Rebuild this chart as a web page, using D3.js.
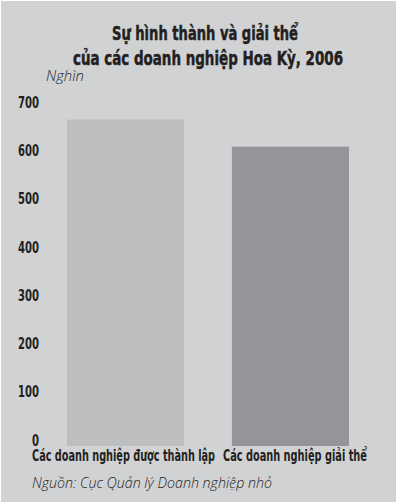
<!DOCTYPE html>
<html>
<head>
<meta charset="utf-8">
<script src="https://cdn.jsdelivr.net/npm/d3@7"></script>
<style>
  html, body { margin: 0; padding: 0; background: #fff; }
  svg { display: block; }
</style>
</head>
<body>
<div id="chart"></div>
<script>
let categories = ["Các doanh nghiệp được thành lập", "Các doanh nghiệp giải thể"];
let values = [676, 620];
let tickValues = [0, 100, 200, 300, 400, 500, 600, 700];
let titleLines = ["Sự hình thành và giải thể", "của các doanh nghiệp Hoa Kỳ, 2006"];
let barColors = ["#bdbec0", "#939598"];

let width = 397, height = 502;
let margin = ({top: 108, right: 48, bottom: 56, left: 67});
let condensed = "'DejaVu Sans Condensed', 'DejaVu Sans', sans-serif";

let svg = d3.select("#chart")
    .append("svg")
    .attr("width", width)
    .attr("height", height);

svg.append("rect")
    .attr("x", 1).attr("y", 1)
    .attr("width", width - 2).attr("height", height - 1)
    .attr("fill", "#d1d2d4");

let x = d3.scaleBand()
    .domain(categories)
    .range([margin.left, width - margin.right])
    .paddingInner(0.29)
    .paddingOuter(0);

let y = d3.scaleLinear()
    .domain([0, 700])
    .range([height - margin.bottom, margin.top]);

// title
let titleWidths = [186, 270];
svg.append("g")
    .attr("font-family", condensed)
    .attr("font-stretch", "condensed")
    .attr("font-weight", "bold")
    .attr("font-size", 20)
    .attr("fill", "#231f20")
    .attr("stroke", "#231f20")
    .attr("stroke-width", 0.5)
    .attr("text-anchor", "middle")
    .selectAll("text")
    .data(titleLines)
    .join("text")
    .attr("x", (d, i) => i ? 208 : 205)
    .attr("y", (d, i) => 40 + i * 25)
    .attr("textLength", (d, i) => titleWidths[i])
    .attr("lengthAdjust", "spacingAndGlyphs")
    .text(d => d);

// unit
svg.append("text")
    .attr("x", 46).attr("y", 81)
    .attr("font-family", "'Open Sans', sans-serif")
    .attr("font-style", "italic")
    .attr("font-weight", 300)
    .attr("font-size", 14)
    .attr("fill", "#231f20")
    .attr("textLength", 38)
    .attr("lengthAdjust", "spacingAndGlyphs")
    .text("Nghìn");

// bars
svg.append("g")
    .selectAll("rect")
    .data(values)
    .join("rect")
    .attr("x", (d, i) => x(categories[i]))
    .attr("y", d => y(d))
    .attr("width", x.bandwidth())
    .attr("height", d => y(0) - y(d))
    .attr("fill", (d, i) => barColors[i]);

// y axis
let yAxis = g => g
    .attr("transform", `translate(39,0)`)
    .call(d3.axisLeft(y).tickValues(tickValues).tickSize(0).tickPadding(0))
    .call(g => g.select(".domain").remove())
    .call(g => g.selectAll(".tick text")
        .attr("dy", "-0.05em")
        .attr("fill", "#231f20")
        .attr("font-family", condensed)
        .attr("font-stretch", "condensed")
        .attr("font-weight", "bold")
        .attr("font-size", 15)
        .attr("textLength", d => String(d).length * 7)
        .attr("lengthAdjust", "spacingAndGlyphs"));

svg.append("g").call(yAxis);

// x axis labels
let labelWidths = [183, 144];
let labelShift = [-2, 4.5];
let xAxis = g => g
    .attr("transform", `translate(0,${y(0)})`)
    .call(d3.axisBottom(x).tickSize(0).tickPadding(0))
    .call(g => g.select(".domain").remove())
    .call(g => g.selectAll(".tick text")
        .attr("dy", 0)
        .attr("y", 15)
        .attr("x", (d, i) => labelShift[i])
        .attr("fill", "#231f20")
        .attr("font-family", condensed)
        .attr("font-stretch", "condensed")
        .attr("font-weight", "bold")
        .attr("font-size", 16)
        .attr("textLength", (d, i) => labelWidths[i])
        .attr("lengthAdjust", "spacingAndGlyphs"));

svg.append("g").call(xAxis);

// source
svg.append("text")
    .attr("x", 32).attr("y", 488)
    .attr("font-family", "'Open Sans', sans-serif")
    .attr("font-style", "italic")
    .attr("font-weight", 300)
    .attr("font-size", 14.5)
    .attr("fill", "#231f20")
    .attr("textLength", 240)
    .attr("lengthAdjust", "spacingAndGlyphs")
    .text("Nguồn: Cục Quản lý Doanh nghiệp nhỏ");
</script>
</body>
</html>
